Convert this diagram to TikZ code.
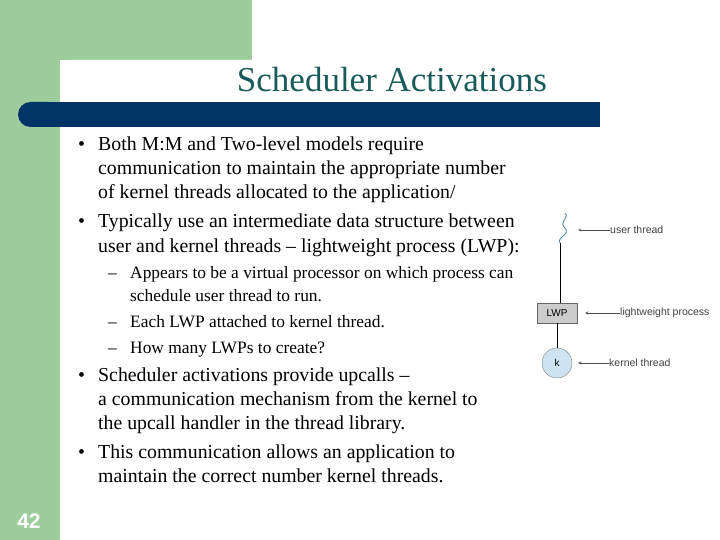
\documentclass[tikz,border=0pt]{standalone}
\usepackage{fontspec}
\setmainfont{Liberation Serif}
\setsansfont{Liberation Sans}
\usetikzlibrary{positioning, calc}
\definecolor{slidegreen}{RGB}{158,204,156}
\definecolor{slideblue}{RGB}{0,51,102}
\definecolor{titleteal}{RGB}{25,90,90}
\definecolor{lwpgray}{RGB}{204,204,204}
\definecolor{kblue}{RGB}{205,228,240}

\begin{document}
\begin{tikzpicture}[x=1pt, y=-1pt,
    bodytext/.style={anchor=base west, inner sep=0pt, font=\fontsize{19.8}{22}\selectfont},
    subtext/.style={anchor=base west, inner sep=0pt, font=\fontsize{17.4}{18}\selectfont},
    tag/.style={anchor=west, inner sep=0pt, text=black!75, font=\sffamily\fontsize{10.5}{12}\selectfont},
    pointer/.style={->, >=stealth, black!70}]
    \useasboundingbox (0,0) rectangle (720,540);
    % background
    \fill[slidegreen] (0,0) rectangle (252,60);
    \fill[slidegreen] (0,0) rectangle (60,540);
    \fill[white] (60,72) arc (180:270:12) -- (252,60) -- (252,72) -- cycle;
    \fill[white] (60,72) rectangle (252,102);
    \fill[slideblue, rounded corners=12.5pt] (18,102) rectangle (60,127);
    \fill[slideblue] (40,102) rectangle (600,127);
    \node[anchor=base, font=\fontsize{35}{40}\selectfont, text=titleteal] (title) at (392,92) {Scheduler Activations};
    \node[anchor=base, font=\sffamily\bfseries\fontsize{21}{24}\selectfont, text=white] (num) at (29,528) {42};
    % bullets
    \foreach \y in {151,228,381,458}
        \node[bodytext] at (78,\y) {\textbullet};
    \node[bodytext] (b1) at (98,151) {Both M:M and Two-level models require};
    \node[bodytext] (b1b) at (98,175) {communication to maintain the appropriate number};
    \node[bodytext] (b1c) at (98,199) {of kernel threads allocated to the application/};
    \node[bodytext] (b2) at (98,228) {Typically use an intermediate data structure between};
    \node[bodytext] (b2b) at (98,252) {user and kernel threads -- lightweight process (LWP):};
    \foreach \y in {278,327,353}
        \node[subtext] at (108,\y) {--};
    \node[subtext] (s1) at (130,278) {Appears to be a virtual processor on which process can};
    \node[subtext] (s1b) at (130,301) {schedule user thread to run.};
    \node[subtext] (s2) at (130,327) {Each LWP attached to kernel thread.};
    \node[subtext] (s3) at (130,353) {How many LWPs to create?};
    \node[bodytext] (b3) at (98,381) {Scheduler activations provide upcalls --};
    \node[bodytext] (b3b) at (98,405) {a communication mechanism from the kernel to};
    \node[bodytext] (b3c) at (98,429) {the upcall handler in the thread library.};
    \node[bodytext] (b4) at (98,458) {This communication allows an application to};
    \node[bodytext] (b4b) at (98,482) {maintain the correct number kernel threads.};
    % LWP diagram
    \coordinate (ut) at (560,243);
    \draw[cyan!60!black, thick] (565,213) .. controls (570,218) and (558,222) .. (565,228)
        .. controls (571,234) and (556,238) .. (ut);
    \node[draw=black!60, fill=lwpgray, minimum width=40pt, minimum height=20pt, inner sep=0pt,
        font=\sffamily\fontsize{10}{12}\selectfont] (lwp) at (557,313) {LWP};
    \node[circle, draw=black!50, fill=kblue, minimum size=30pt, inner sep=0pt,
        font=\sffamily\fontsize{10}{12}\selectfont] (kt) at (557,363) {k};
    \draw (ut) -- (lwp.north -| ut);
    \draw (lwp) -- (kt);
    \node[tag] (utlabel) at (610,230) {user thread};
    \node[tag] (lwplabel) at (620,313) {lightweight process};
    \node[tag] (ktlabel) at (609,363) {kernel thread};
    \draw[pointer] (utlabel.west) -- (578,230);
    \draw[pointer] (lwplabel.west) -- ($(lwp.east)+(8,0)$);
    \draw[pointer] (ktlabel.west) -- ($(kt.east)+(6,0)$);
\end{tikzpicture}
\end{document}
